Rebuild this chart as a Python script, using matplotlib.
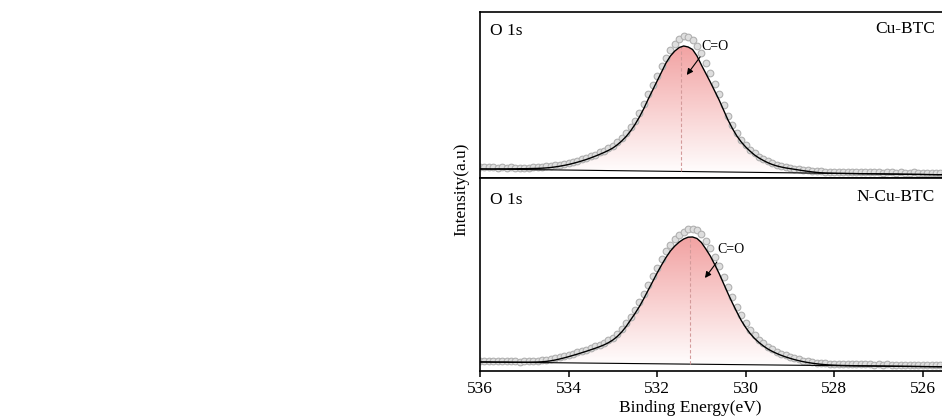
import numpy as np
import matplotlib
matplotlib.use('Agg')
import matplotlib.pyplot as plt
from matplotlib.colors import LinearSegmentedColormap
from matplotlib.patches import Polygon

plt.rcParams['font.family'] = ['Liberation Serif', 'DejaVu Serif']

# binding energy grid of the scan (eV), 0.1 eV step
energy = np.linspace(536.0, 525.0, 111)

# Cu-BTC, O 1s
cu_data = [
    10.8, 11.2, 10.6, 10.9, 10.4, 10.7, 10.2, 10.5, 10.1, 10.4, 10.0, 10.3, 10.6,
    10.8, 11.2, 11.5, 12.1, 12.8, 13.4, 14.3, 15.2, 16.3, 17.4, 18.8, 20.1, 21.9,
    23.4, 25.5, 27.3, 29.8, 32.4, 35.8, 40.1, 44.6, 50.8, 57.2, 65.1, 73.8, 83.5,
    92.7, 102.4, 111.6, 120.3, 127.8, 134.2, 138.9, 141.5, 140.6, 138.1, 132.4,
    124.6, 114.8, 104.9, 94.3, 83.7, 72.6, 62.1, 52.8, 44.7, 38.2, 32.9, 28.3,
    24.6, 21.4, 18.9, 16.6, 14.8, 13.2, 12.1, 11.0, 10.2, 9.4, 8.8, 8.1, 7.6, 7.2,
    6.8, 6.6, 6.3, 6.2, 6.0,
    6.1, 5.8, 6.0, 5.7, 5.9, 5.6, 5.8, 5.5, 5.7, 5.6, 5.4, 5.7, 5.5, 5.3, 5.6,
    5.4, 5.2, 5.5, 5.3, 5.1, 5.4, 5.2, 5.0, 5.3, 5.1, 4.9, 5.2, 5.0, 4.8, 5.0,
]
cu_fit = [
    9.0, 9.0, 9.0, 9.0, 9.1, 9.1, 9.1, 9.2, 9.2, 9.3, 9.3,
    9.4, 9.5, 9.6, 9.8, 10.1, 10.5, 11.1, 11.8, 12.6, 13.5,
    14.6, 15.8, 17.1, 18.5, 20.1, 21.8, 23.6, 25.5, 27.6, 30.0,
    33.2, 37.0, 41.5, 47.0, 53.5, 61.0, 69.5, 79.0, 88.0, 97.0,
    106.0, 115.0, 122.0, 127.0, 130.5, 132.0, 131.0, 128.5, 122.0, 113.0,
    104.5, 96.0, 87.0, 78.0, 68.0, 58.0, 49.5, 42.0, 36.0, 31.0,
    26.8, 23.0, 20.0, 17.5, 15.3, 13.5, 12.1, 11.0, 10.1, 9.4,
    8.7, 8.0, 7.3, 6.7, 6.1, 5.6, 5.2, 4.9, 4.8, 4.7,
    4.6, 4.6, 4.5, 4.5, 4.4, 4.3, 4.3, 4.2, 4.2, 4.1,
    4.0, 4.0, 3.9, 3.9, 3.8, 3.7, 3.7, 3.6, 3.6, 3.5,
    3.4, 3.4, 3.3, 3.3, 3.2, 3.1, 3.1, 3.0, 3.0, 3.0,
]
cu_base = [9.0, 3.0]

# N-Cu-BTC, O 1s
ncu_data = [
    10.2, 9.6, 10.4, 9.8, 10.1, 9.5, 10.3, 9.7, 9.9, 9.4, 10.0,
    9.8, 10.1, 10.3, 10.7, 11.2, 11.9, 12.7, 13.7, 14.8, 16.0,
    17.3, 18.6, 20.0, 21.4, 22.9, 24.5, 26.2, 28.1, 30.5, 33.3,
    37.1, 41.8, 47.6, 54.3, 61.2, 68.7, 77.0, 85.9, 94.6, 103.4,
    111.8, 119.6, 126.4, 131.7, 136.2, 139.4, 141.5, 142.1, 140.6, 136.8,
    130.2, 122.8, 114.1, 104.6, 94.2, 83.9, 73.8, 64.4, 55.6, 47.9,
    41.4, 35.9, 31.4, 27.6, 24.4, 21.6, 19.3, 17.3, 15.6, 14.1,
    12.7, 11.5, 10.4, 9.6, 8.9, 8.3, 7.9, 7.5, 7.2, 7.0,
    6.9, 7.1, 6.7, 6.8, 6.6, 6.9, 6.5, 6.7, 6.4, 6.6,
    6.3, 6.5, 6.2, 6.4, 6.1, 6.3, 6.0, 6.2, 5.9, 6.1,
    5.8, 6.0, 5.7, 5.9, 5.6, 5.8, 5.5, 5.7, 5.4, 5.6,
]
ncu_fit = [
    9.0, 9.0, 9.0, 8.9, 8.9, 8.9, 8.9, 8.8, 8.8, 8.8, 8.8,
    8.8, 8.9, 9.0, 9.2, 9.6, 10.2, 11.0, 12.0, 13.1, 14.3,
    15.6, 16.9, 18.3, 19.7, 21.2, 22.7, 24.3, 26.1, 28.3, 31.0,
    34.5, 39.0, 44.5, 51.0, 57.5, 64.5, 72.5, 81.0, 89.5, 98.0,
    106.0, 113.5, 120.0, 125.0, 129.0, 132.0, 133.8, 134.0, 132.5, 128.5,
    122.0, 115.0, 106.5, 97.5, 87.5, 77.5, 68.0, 59.0, 50.5, 43.5,
    37.5, 32.5, 28.5, 25.0, 22.0, 19.6, 17.5, 15.7, 14.1, 12.7,
    11.4, 10.3, 9.3, 8.5, 7.8, 7.2, 6.7, 6.3, 6.0, 5.8,
    5.6, 5.5, 5.4, 5.3, 5.2, 5.1, 5.1, 5.0, 5.0, 4.9,
    4.9, 4.8, 4.8, 4.7, 4.7, 4.6, 4.6, 4.5, 4.5, 4.4,
    4.4, 4.3, 4.3, 4.2, 4.2, 4.1, 4.1, 4.0, 4.0, 4.0,
]
ncu_base = [9.0, 4.0]

base_x = [536.0, 525.0]
samples = ['Cu-BTC', 'N-Cu-BTC']
peak_pos = [531.45, 531.25]
peak_top = [132.0, 134.0]
ticks = [536, 534, 532, 530, 528, 526]

# C=O arrow: (text x, text y, tail x, tail y, head x, head y)
arrows = [
    (530.99, 131, 531.03, 121, 531.33, 103),
    (530.63, 121, 530.65, 109, 530.92, 93),
]

cmap = LinearSegmentedColormap.from_list('pink', ['#ffffff', '#f2a2a2'])


def draw_panel(ax, data, fit, base, name, pk, top, arr, ymax):
    fit = np.array(fit)
    verts = list(zip(energy, fit)) + [(base_x[1], base[1]), (base_x[0], base[0])]
    poly = Polygon(verts, closed=True, facecolor='none', edgecolor='none')
    ax.add_patch(poly)
    grad = np.linspace(0, 1, 256).reshape(-1, 1)
    im = ax.imshow(grad, cmap=cmap, aspect='auto', origin='lower',
                   extent=[525, 536, min(base), top], zorder=1)
    im.set_clip_path(poly)

    ax.plot(energy, data, 'o', ms=4.8, mfc='#dedede', mec='#b0b0b0', mew=0.8, zorder=2)
    ax.plot(base_x, base, '-', color='black', lw=0.8, zorder=3)
    ax.plot(energy, fit, '-', color='black', lw=1.0, zorder=4)
    base_at_pk = base[0] + (base[1] - base[0]) * (536 - pk) / 11
    ax.plot([pk, pk], [base_at_pk, top], '--', color='#d39a9a', lw=0.8, dashes=(3, 2), zorder=3)

    tx, ty, ax0, ay0, hx, hy = arr
    ax.text(tx, ty, 'C=O', fontsize=10, ha='left', va='center', zorder=5)
    ax.annotate('', xy=(hx, hy), xytext=(ax0, ay0),
                arrowprops=dict(arrowstyle='-|>', color='black', lw=0.8,
                                mutation_scale=9, shrinkA=0, shrinkB=0), zorder=5)

    ax.text(0.02, 0.885, 'O 1s', transform=ax.transAxes, fontsize=12.5, ha='left', va='center')
    ax.text(0.934, 0.9, name, transform=ax.transAxes, fontsize=12.5, ha='right', va='center')

    ax.set_xlim(536, 525)
    ax.set_ylim(0, ymax)
    ax.set_yticks([])
    for s in ax.spines.values():
        s.set_linewidth(1.2)


fig = plt.figure(figsize=(9.42, 4.19), dpi=100)
ax1 = fig.add_axes([0.5096, 0.5752, 0.517, 0.3962])
ax2 = fig.add_axes([0.5096, 0.1146, 0.517, 0.4606])

draw_panel(ax1, cu_data, cu_fit, cu_base, samples[0], peak_pos[0], peak_top[0], arrows[0], 166)
draw_panel(ax2, ncu_data, ncu_fit, ncu_base, samples[1], peak_pos[1], peak_top[1], arrows[1], 193)

ax1.set_xticks([])
ax2.set_xticks(ticks)
ax2.set_xticklabels([str(t) for t in ticks])
ax2.tick_params(axis='x', direction='out', length=4.5, width=1.1, pad=2.5, labelsize=12.5)

fig.text(0.7325, 0.026, 'Binding Energy(eV)', fontsize=12.5, ha='center', va='center')
fig.text(0.49, 0.547, 'Intensity(a.u)', fontsize=12.5, rotation=90, ha='center', va='center')

fig.savefig('out.png', dpi=100)
